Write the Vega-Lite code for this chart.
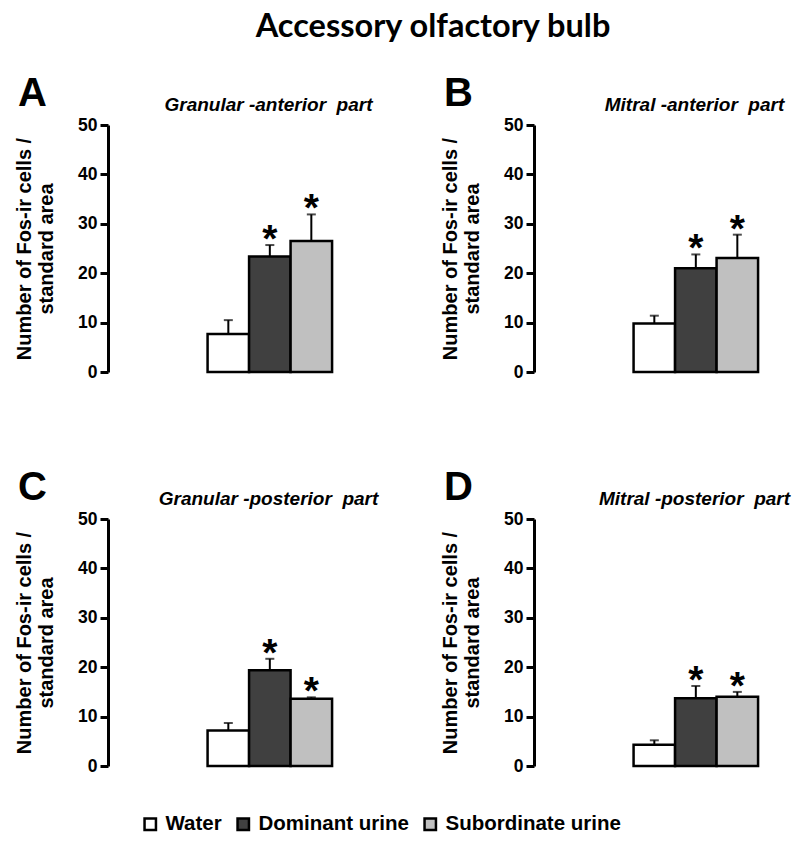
{
  "$schema": "https://vega.github.io/schema/vega-lite/v6.json",
  "padding": {"left": 14, "top": 10, "right": 5, "bottom": 5},
  "background": "white",
  "title": {"text": "Accessory olfactory bulb", "anchor": "middle", "frame": "bounds", "font": "Lato", "fontSize": 32.5, "fontWeight": "bold", "color": "black", "dx": 31, "dy": 0, "offset": 5, "baseline": "alphabetic"},
  "data": {"values": [
    {"panel": "A", "group": "Water", "mean": 7.7, "upper": 10.5, "sig": false},
    {"panel": "A", "group": "Dominant urine", "mean": 23.4, "upper": 25.7, "sig": true},
    {"panel": "A", "group": "Subordinate urine", "mean": 26.5, "upper": 31.9, "sig": true},
    {"panel": "B", "group": "Water", "mean": 9.8, "upper": 11.4, "sig": false},
    {"panel": "B", "group": "Dominant urine", "mean": 21.0, "upper": 23.8, "sig": true},
    {"panel": "B", "group": "Subordinate urine", "mean": 23.1, "upper": 27.8, "sig": true},
    {"panel": "C", "group": "Water", "mean": 7.2, "upper": 8.7, "sig": false},
    {"panel": "C", "group": "Dominant urine", "mean": 19.4, "upper": 21.7, "sig": true},
    {"panel": "C", "group": "Subordinate urine", "mean": 13.6, "upper": 13.9, "sig": true},
    {"panel": "D", "group": "Water", "mean": 4.3, "upper": 5.2, "sig": false},
    {"panel": "D", "group": "Dominant urine", "mean": 13.7, "upper": 16.2, "sig": true},
    {"panel": "D", "group": "Subordinate urine", "mean": 14.0, "upper": 15.0, "sig": true}
  ]},
  "columns": 2,
  "bounds": "flush",
  "spacing": {"column": 176, "row": 147},
  "concat": [
    {
      "title": {"text": "A"},
      "width": 250, "height": 247,
      "transform": [{"filter": "datum.panel === 'A'"}],
      "encoding": {"x": {"field": "group", "type": "nominal", "scale": {"domain": ["_a", "_b", "Water", "Dominant urine", "Subordinate urine"], "paddingInner": 0, "paddingOuter": 0.512, "align": 0.39}, "axis": {"orient": "top", "title": "Granular -anterior\u00a0 part"}}},
      "layer": [
        {"mark": {"type": "rule", "color": "black", "strokeWidth": 2}, "encoding": {"y": {"field": "mean", "type": "quantitative"}, "y2": {"field": "upper"}}},
        {"mark": {"type": "tick", "color": "black", "size": 9, "thickness": 2}, "encoding": {"y": {"field": "upper", "type": "quantitative"}}},
        {"mark": {"type": "bar", "stroke": "black", "strokeWidth": 2.5}, "encoding": {"y": {"field": "mean", "type": "quantitative", "scale": {"domain": [0, 50], "nice": false}, "axis": {"title": ["Number of Fos-ir cells /", "standard area"]}}, "color": {"field": "group", "type": "nominal", "scale": {"domain": ["Water", "Dominant urine", "Subordinate urine"], "range": ["#ffffff", "#404040", "#c0c0c0"]}}}},
        {"transform": [{"filter": "datum.sig"}], "mark": {"type": "text", "text": "*", "font": "Liberation Sans", "fontSize": 39, "fontWeight": "bold", "baseline": "alphabetic", "dy": 7, "color": "black"}, "encoding": {"y": {"field": "upper", "type": "quantitative"}}}
      ]
    },
    {
      "title": {"text": "B"},
      "width": 250, "height": 247,
      "transform": [{"filter": "datum.panel === 'B'"}],
      "encoding": {"x": {"field": "group", "type": "nominal", "scale": {"domain": ["_a", "_b", "Water", "Dominant urine", "Subordinate urine"], "paddingInner": 0, "paddingOuter": 0.512, "align": 0.39}, "axis": {"orient": "top", "title": "Mitral -anterior\u00a0 part"}}},
      "layer": [
        {"mark": {"type": "rule", "color": "black", "strokeWidth": 2}, "encoding": {"y": {"field": "mean", "type": "quantitative"}, "y2": {"field": "upper"}}},
        {"mark": {"type": "tick", "color": "black", "size": 9, "thickness": 2}, "encoding": {"y": {"field": "upper", "type": "quantitative"}}},
        {"mark": {"type": "bar", "stroke": "black", "strokeWidth": 2.5}, "encoding": {"y": {"field": "mean", "type": "quantitative", "scale": {"domain": [0, 50], "nice": false}, "axis": {"title": ["Number of Fos-ir cells /", "standard area"]}}, "color": {"field": "group", "type": "nominal", "scale": {"domain": ["Water", "Dominant urine", "Subordinate urine"], "range": ["#ffffff", "#404040", "#c0c0c0"]}}}},
        {"transform": [{"filter": "datum.sig"}], "mark": {"type": "text", "text": "*", "font": "Liberation Sans", "fontSize": 39, "fontWeight": "bold", "baseline": "alphabetic", "dy": 7, "color": "black"}, "encoding": {"y": {"field": "upper", "type": "quantitative"}}}
      ]
    },
    {
      "title": {"text": "C"},
      "width": 250, "height": 247,
      "transform": [{"filter": "datum.panel === 'C'"}],
      "encoding": {"x": {"field": "group", "type": "nominal", "scale": {"domain": ["_a", "_b", "Water", "Dominant urine", "Subordinate urine"], "paddingInner": 0, "paddingOuter": 0.512, "align": 0.39}, "axis": {"orient": "top", "title": "Granular -posterior\u00a0 part"}}},
      "layer": [
        {"mark": {"type": "rule", "color": "black", "strokeWidth": 2}, "encoding": {"y": {"field": "mean", "type": "quantitative"}, "y2": {"field": "upper"}}},
        {"mark": {"type": "tick", "color": "black", "size": 9, "thickness": 2}, "encoding": {"y": {"field": "upper", "type": "quantitative"}}},
        {"mark": {"type": "bar", "stroke": "black", "strokeWidth": 2.5}, "encoding": {"y": {"field": "mean", "type": "quantitative", "scale": {"domain": [0, 50], "nice": false}, "axis": {"title": ["Number of Fos-ir cells /", "standard area"]}}, "color": {"field": "group", "type": "nominal", "scale": {"domain": ["Water", "Dominant urine", "Subordinate urine"], "range": ["#ffffff", "#404040", "#c0c0c0"]}}}},
        {"transform": [{"filter": "datum.sig"}], "mark": {"type": "text", "text": "*", "font": "Liberation Sans", "fontSize": 39, "fontWeight": "bold", "baseline": "alphabetic", "dy": 7, "color": "black"}, "encoding": {"y": {"field": "upper", "type": "quantitative"}}}
      ]
    },
    {
      "title": {"text": "D"},
      "width": 250, "height": 247,
      "transform": [{"filter": "datum.panel === 'D'"}],
      "encoding": {"x": {"field": "group", "type": "nominal", "scale": {"domain": ["_a", "_b", "Water", "Dominant urine", "Subordinate urine"], "paddingInner": 0, "paddingOuter": 0.512, "align": 0.39}, "axis": {"orient": "top", "title": "Mitral -posterior\u00a0 part"}}},
      "layer": [
        {"mark": {"type": "rule", "color": "black", "strokeWidth": 2}, "encoding": {"y": {"field": "mean", "type": "quantitative"}, "y2": {"field": "upper"}}},
        {"mark": {"type": "tick", "color": "black", "size": 9, "thickness": 2}, "encoding": {"y": {"field": "upper", "type": "quantitative"}}},
        {"mark": {"type": "bar", "stroke": "black", "strokeWidth": 2.5}, "encoding": {"y": {"field": "mean", "type": "quantitative", "scale": {"domain": [0, 50], "nice": false}, "axis": {"title": ["Number of Fos-ir cells /", "standard area"]}}, "color": {"field": "group", "type": "nominal", "scale": {"domain": ["Water", "Dominant urine", "Subordinate urine"], "range": ["#ffffff", "#404040", "#c0c0c0"]}}}},
        {"transform": [{"filter": "datum.sig"}], "mark": {"type": "text", "text": "*", "font": "Liberation Sans", "fontSize": 39, "fontWeight": "bold", "baseline": "alphabetic", "dy": 7, "color": "black"}, "encoding": {"y": {"field": "upper", "type": "quantitative"}}}
      ]
    }
  ],
  "config": {
    "view": {"stroke": null},
    "title": {"anchor": "start", "frame": "group", "font": "Liberation Sans", "fontSize": 40, "fontWeight": "bold", "color": "black", "dx": -90, "offset": -19, "baseline": "alphabetic"},
    "axisY": {"values": [0, 10, 20, 30, 40, 50], "grid": false, "domainColor": "black", "domainWidth": 3, "tickColor": "black", "tickWidth": 3, "tickSize": 8, "labelPadding": 3, "labelFont": "Liberation Sans", "labelFontSize": 17.5, "labelFontWeight": "bold", "labelColor": "black", "titleFont": "Liberation Sans", "titleFontSize": 20, "titleFontWeight": "bold", "titleColor": "black", "titlePadding": 21, "titleLineHeight": 22},
    "axisX": {"labels": false, "ticks": false, "domain": false, "grid": false, "titleFont": "Liberation Sans", "titleFontSize": 19, "titleFontWeight": "bold", "titleFontStyle": "italic", "titleColor": "black", "titleX": 160, "titleY": -15, "titleBaseline": "alphabetic", "titleAlign": "center"},
    "legend": {"orient": "none", "legendX": 32, "legendY": 689, "direction": "horizontal", "columns": 3, "title": null, "symbolType": "square", "symbolSize": 130, "symbolStrokeColor": "black", "symbolStrokeWidth": 2.5, "symbolOpacity": 1, "labelFont": "Liberation Sans", "labelFontSize": 20.5, "labelFontWeight": "bold", "labelColor": "black", "labelOffset": 5, "labelLimit": 400, "columnPadding": 10}
  }
}
